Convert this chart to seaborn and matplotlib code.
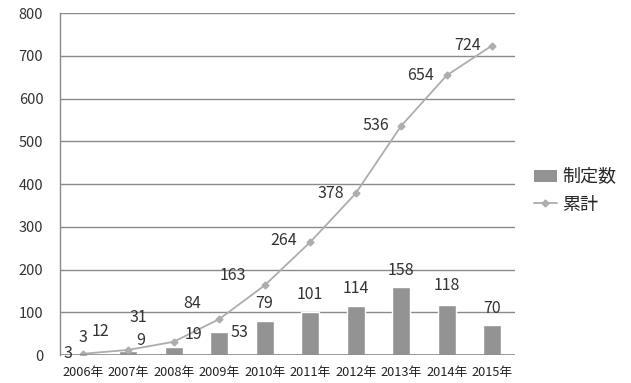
import matplotlib
matplotlib.use("Agg")
import matplotlib.pyplot as plt
import seaborn as sns
import pandas as pd
from matplotlib.lines import Line2D
from matplotlib.patches import Patch

years = ["2006年", "2007年", "2008年", "2009年", "2010年",
         "2011年", "2012年", "2013年", "2014年", "2015年"]
annual = [3, 9, 19, 53, 79, 101, 114, 158, 118, 70]
cumulative = [3, 12, 31, 84, 163, 264, 378, 536, 654, 724]
y_ticks = [0, 100, 200, 300, 400, 500, 600, 700, 800]
bar_name = "制定数"
line_name = "累計"

# label offsets in pixels (style)
bar_off = [(0, 16), (13, 11), (20, 12), (20, 0), (0, 18),
           (0, 17), (0, 18), (0, 17), (0, 19), (0, 17)]
cum_off = [(-15, 0), (-28, 18), (-35, 24), (-27, 16), (-32, 10),
           (-27, 2), (-25, 0), (-25, 0), (-26, 0), (-25, 0)]

sns.set_theme(style="white")
plt.rcParams['font.family'] = ['Noto Sans CJK JP', 'DejaVu Sans']

df = pd.DataFrame({"year": years, "annual": annual, "cumulative": cumulative})

fig = plt.figure(figsize=(6.31, 3.83), dpi=100)
ax = fig.add_axes([0.095, 0.073, 0.721, 0.893])

bar_color = "#939393"
line_color = "#adadad"

sns.barplot(data=df, x="year", y="annual", color=bar_color, width=0.4,
            saturation=1, ax=ax, zorder=2)
sns.pointplot(data=df, x="year", y="cumulative", color=line_color,
              markers="D", markersize=3.5, linewidth=1.3, ax=ax, zorder=3)

ax.set_ylim(0, 800)
ax.set_xlim(-0.5, 9.5)
ax.set_yticks(y_ticks)
ax.set_yticklabels([str(v) for v in y_ticks], fontsize=10.5, color="#333333")
ax.set_xticks(range(len(years)))
ax.set_xticklabels(years, fontsize=9.2, color="#222222")
ax.tick_params(axis="y", length=0, pad=12)
ax.tick_params(axis="x", length=0, pad=8)
ax.set_xlabel("")
ax.set_ylabel("")

for v in y_ticks[1:]:
    ax.axhline(v, color="#8a8a8a", lw=1.0, zorder=1)
ax.axhline(0, color="#8a8a8a", lw=1.2, zorder=4)

for s in ["top", "right", "bottom"]:
    ax.spines[s].set_visible(False)
ax.spines["left"].set_color("#8a8a8a")
ax.spines["left"].set_linewidth(1.0)

for i, v in enumerate(annual):
    ax.annotate(str(v), (i, v), xytext=bar_off[i], textcoords="offset pixels",
                ha="center", va="center", fontsize=11.5, color="#333333", zorder=5)
for i, v in enumerate(cumulative):
    ax.annotate(str(v), (i, v), xytext=cum_off[i], textcoords="offset pixels",
                ha="center", va="center", fontsize=11.5, color="#333333", zorder=5)

handles = [Patch(facecolor=bar_color, edgecolor="none"),
           Line2D([0], [0], color=line_color, marker="D", markersize=3.5, lw=1.3)]
fig.legend(handles, [bar_name, line_name], loc="center left",
           bbox_to_anchor=(0.82, 1 - 191 / 383), frameon=False,
           fontsize=13, handlelength=1.3, handletextpad=0.3, labelspacing=0.5)

fig.savefig("out.png", dpi=100, facecolor="white")
